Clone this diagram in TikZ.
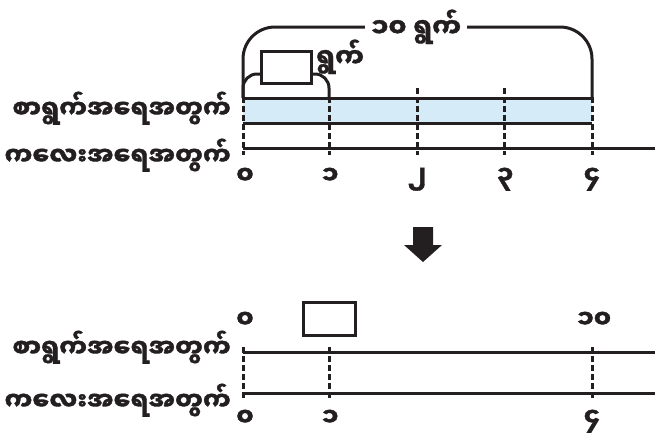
\documentclass[tikz,border=0pt]{standalone}
\usepackage{fontspec}
\newfontfamily\mm[Script=Myanmar, BoldFeatures={FakeBold=1.5}]{Noto Sans Myanmar UI}
\definecolor{ink}{HTML}{231F20}
\definecolor{band}{HTML}{D6EBF8}
\begin{document}
\begin{tikzpicture}[x=1pt,y=-1pt,
  line/.style={line width=3pt, draw=ink},
  dashline/.style={line width=3pt, draw=ink, dash pattern=on 6pt off 3pt},
  lbl/.style={font=\mm\bfseries\fontsize{25}{25}\selectfont, text=ink, inner sep=0pt, anchor=base east},
  num/.style={font=\mm\bfseries\fontsize{25}{25}\selectfont, text=ink, inner sep=0pt, anchor=base},
  word/.style={font=\mm\bfseries\fontsize{26}{26}\selectfont, text=ink, inner sep=0pt, anchor=base},
  box/.style={draw=ink, fill=white, line width=3pt, minimum width=50pt, minimum height=32pt, inner sep=0pt}
]
\useasboundingbox (0,0) rectangle (655,434);
% top
\fill[band] (243,98) rectangle (592,123);
\draw[line] (243,98) -- (592,98);
\draw[line] (243,123) -- (592,123);
\draw[line] (243,148) -- (655,148);
\foreach \x/\t in {243/97,329/97,417/88,504/88,592/97}
  \draw[dashline] (\x,\t) -- (\x,155);
\draw[line, rounded corners=32pt] (243,98) |- (592,27) -- (592,98);
\node[word, fill=white, inner xsep=6pt, inner ysep=0pt] (ten) at (416,37) {၁၀~ရွက်};
\draw[line, rounded corners=14pt] (243,98) |- (329,74) -- (329,98);
\node[box] (box1) at (286,67) {};
\node[word, anchor=base west] (one) at (316,67) {ရွက်};
\node[lbl] (paperA) at (231,118) {စာရွက်အရေအတွက်};
\node[lbl] (kidA) at (231,165) {ကလေးအရေအတွက်};
\node[num] (n0) at (245,184) {၀};
\node[num] (n1) at (330,184) {၁};
\node[num] (n2) at (417,184) {၂};
\node[num] (n3) at (505,184) {၃};
\node[num] (n4) at (592,184) {၄};
% arrow
\fill[ink] (413,227) -- (433,227) -- (433,245) -- (442,245) -- (423,262) -- (404,245) -- (413,245) -- cycle;
% bottom
\node[box, minimum width=52pt, minimum height=33pt] (box2) at (329.5,319) {};
\node[num] (m0t) at (245,328) {၀};
\node[num] (m10) at (594,328) {၁၀};
\draw[line] (243,352) -- (655,352);
\draw[line] (243,393) -- (655,393);
\foreach \x in {243,329,592}
  \draw[dashline] (\x,347) -- (\x,400);
\node[lbl] (paperB) at (231,357) {စာရွက်အရေအတွက်};
\node[lbl] (kidB) at (231,410) {ကလေးအရေအတွက်};
\node[num] (m0) at (245,426) {၀};
\node[num] (m1) at (330,426) {၁};
\node[num] (m4) at (592,426) {၄};
\end{tikzpicture}
\end{document}
